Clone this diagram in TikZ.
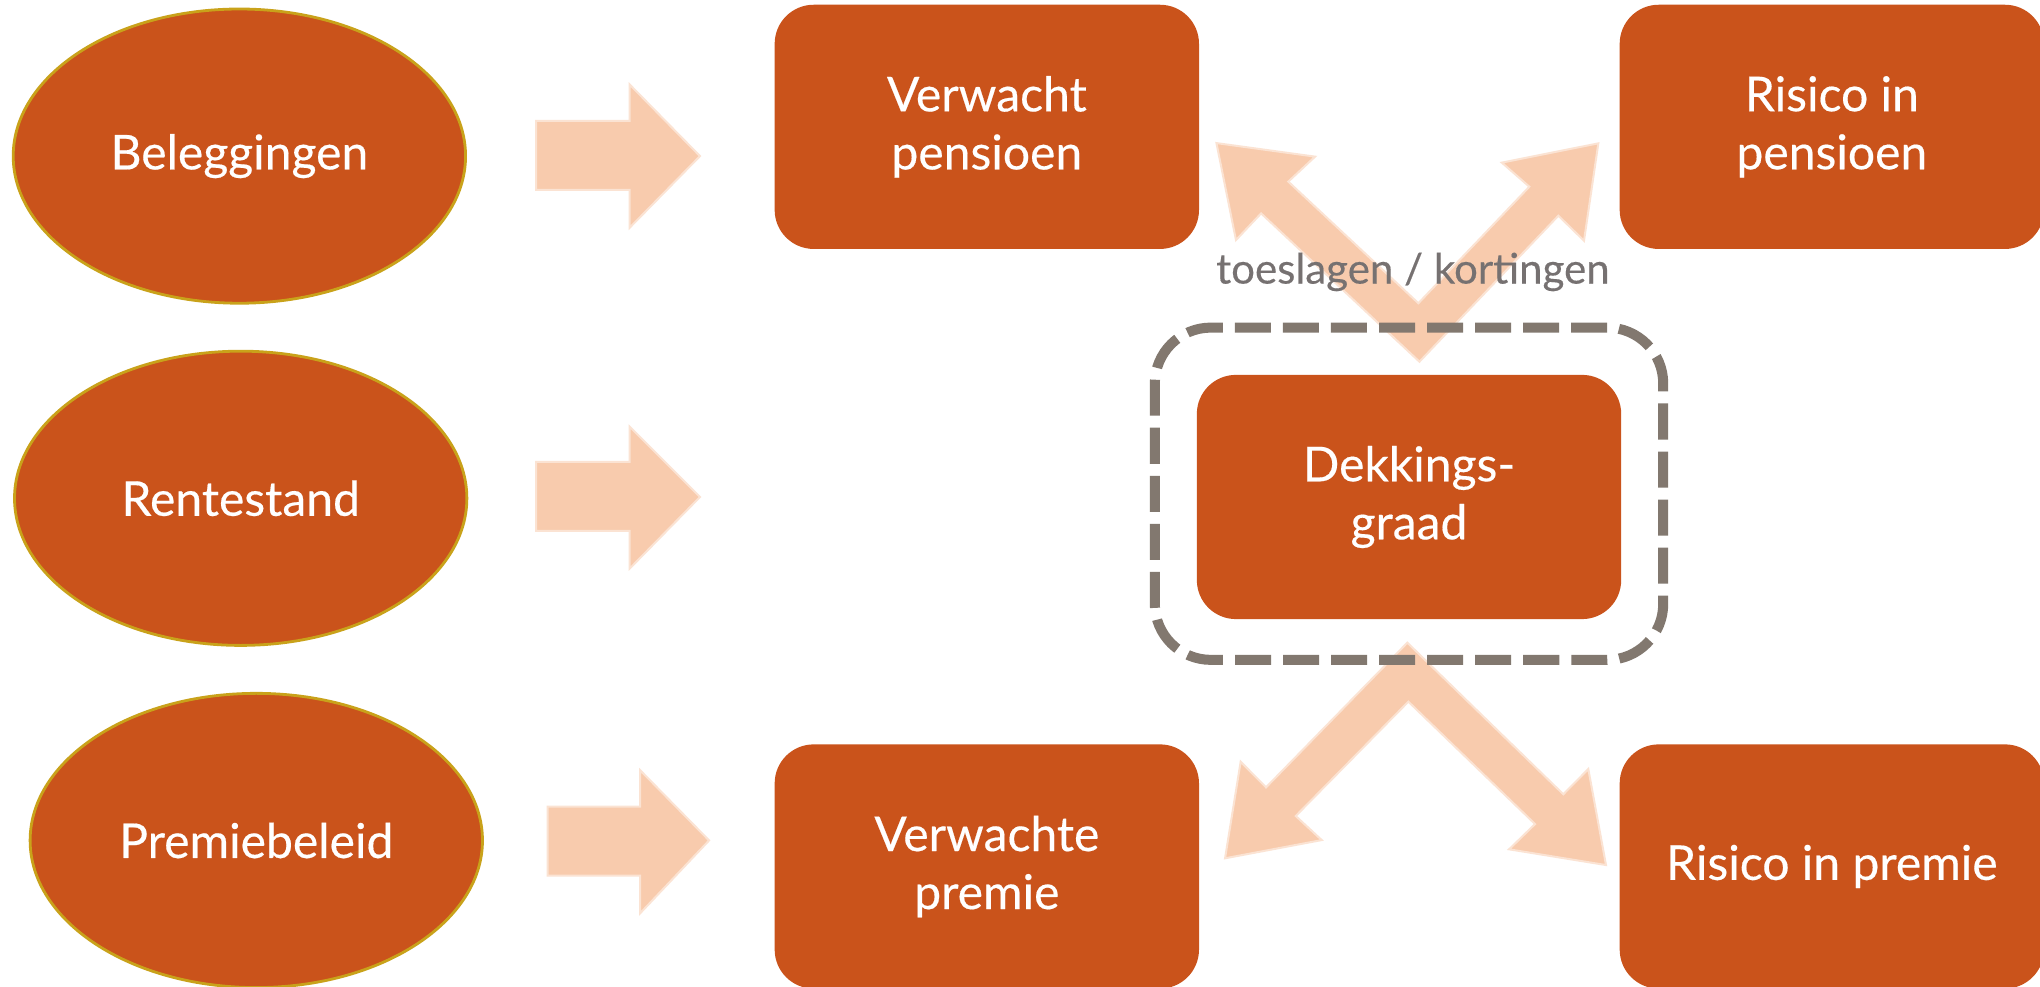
\documentclass[tikz,border=0pt]{standalone}
\usepackage{fontspec}
\setmainfont{Lato}[FakeBold=0.35]
\usetikzlibrary{shapes.geometric}
\definecolor{rust}{HTML}{CA531B}
\definecolor{gold}{HTML}{C9A21A}
\definecolor{peach}{HTML}{F8CBAD}
\definecolor{peachline}{HTML}{FBE3D3}
\definecolor{dashgray}{HTML}{82786F}
\definecolor{labelgray}{HTML}{767171}
\begin{document}
\begin{tikzpicture}[x=0.65pt,y=-0.65pt,
  oval/.style={ellipse, fill=rust, draw=gold, line width=1.4pt, minimum width=226pt, minimum height=147pt, inner sep=0pt, text=white, font=\fontsize{24}{29}\selectfont},
  card/.style={rectangle, rounded corners=19.5pt, fill=rust, minimum width=212pt, minimum height=122pt, inner sep=0pt, text=white, align=center, font=\fontsize{24}{29}\selectfont},
  blockarrow/.style={fill=peach, draw=peachline, line width=1pt, line join=miter},
  zone/.style={rectangle, draw=dashgray, line width=5pt, dash pattern=on 18pt off 6pt, rounded corners=28pt, minimum width=254pt, minimum height=166pt, inner sep=0pt},
  lbl/.style={text=labelgray, font=\fontsize{21}{25}\selectfont, inner sep=0pt}]
\useasboundingbox (0,0) rectangle (1568,758);
\fill[white] (0,0) rectangle (1568,758);

% ellipses
\node[oval] (beleg) at (184,120) {Beleggingen};
\node[oval] (rente) at (185,383) {Rentestand};
\node[oval] (premb) at (197,646) {Premiebeleid};

% cards
\node[card] (vpens) at (758.5,97.5) {Verwacht\\pensioen};
\node[card] (rpens) at (1408,97.5) {Risico in\\pensioen};
\node[card] (dekk) at (1083,382) {Dekkings-\\graad};
\node[card] (vprem) at (758.5,666) {Verwachte\\premie};
\node[card] (rprem) at (1408,666) {Risico in premie};

% horizontal block arrows
\draw[blockarrow] (412,93) -- (484,93) -- (484,65) -- (538,120) -- (484,175) -- (484,146) -- (412,146) -- cycle;
\draw[blockarrow] (412,355) -- (484,355) -- (484,328) -- (538,382) -- (484,437) -- (484,408) -- (412,408) -- cycle;
\draw[blockarrow] (421,620) -- (492,620) -- (492,592) -- (545,646) -- (492,702) -- (492,673) -- (421,673) -- cycle;

% top chevron arrows
\draw[blockarrow] (1091,278) -- (969.3,164) -- (950,184.5) -- (935,110) -- (1010.8,120.4) -- (990.2,139.6) -- (1090.2,233.1) -- (1175.5,143.5) -- (1154.3,125) -- (1228.5,110.2) -- (1217.5,185) -- (1197.8,165.8) -- cycle;

% bottom chevron arrows
\draw[blockarrow] (1081.7,494) -- (973.1,605.2) -- (953.6,585.5) -- (941.6,659.7) -- (1015.9,645.7) -- (995.9,627.2) -- (1082.5,539.3) -- (1179.9,633.4) -- (1159.9,652.8) -- (1234.4,664.9) -- (1220.8,591.1) -- (1201.6,610.5) -- cycle;

% label
\node[lbl] (toes) at (1086,209) {toeslagen / kortingen};

% dashed zone
\node[zone] (zonebox) at (1083,379.5) {};
\end{tikzpicture}
\end{document}
